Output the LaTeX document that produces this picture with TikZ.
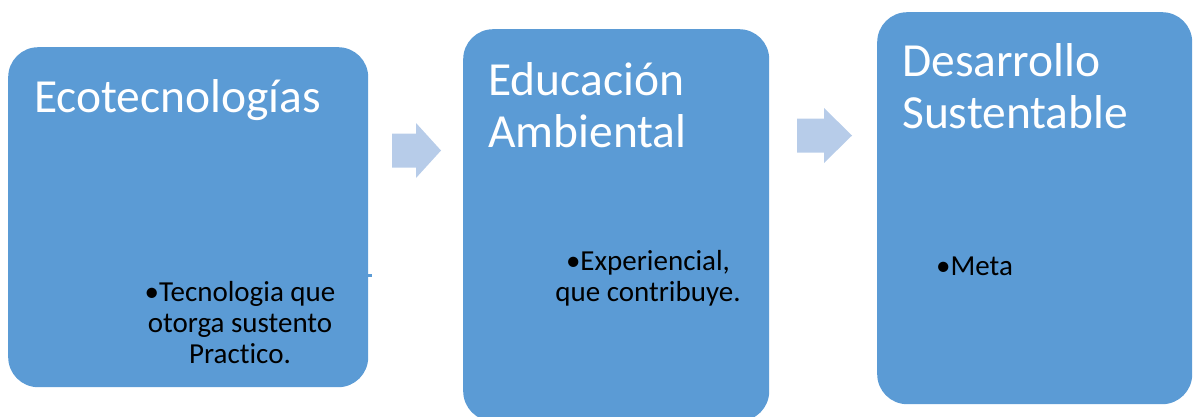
\documentclass[tikz,border=0pt]{standalone}
\usepackage{fontspec}
\setmainfont{Carlito}[Ligatures={NoCommon,NoContextual}]
\usepackage{tikz}
\usepackage{xcolor}
\usetikzlibrary{positioning}

\definecolor{boxblue}{HTML}{5B9BD5}
\definecolor{arrowblue}{HTML}{B7CCE9}

\tikzset{
  stagebox/.style={draw=none, fill=boxblue, rounded corners=30pt, inner sep=0pt, anchor=north west},
  titletext/.style={text=white, font=\fontsize{47.5}{52}\selectfont, inner sep=0pt, align=left, anchor=base west},
  itemtext/.style={text=black, font=\fontsize{29}{31}\selectfont, inner sep=0pt, align=center, anchor=base}
}

\begin{document}
\begin{tikzpicture}[x=1pt,y=-1pt]
        \useasboundingbox (0,0) rectangle (1193,416);
        % the three stages
        \node[stagebox, minimum width=360pt, minimum height=340pt] (eco) at (8,47) {};
        \node[stagebox, minimum width=306pt, minimum height=392pt] (edu) at (463,29) {};
        \node[stagebox, minimum width=315pt, minimum height=392pt] (des) at (877,12) {};
        \draw[boxblue, line width=3pt] (367,275) -- (372,275);
        % block arrows between the stages
        \foreach \tail/\neck/\tip/\mid in {392/416/441/150.5, 797/824/852/135.5}
        \fill[arrowblue] (\tail,\mid-17) -- (\neck,\mid-17) -- (\neck,\mid-27.5) -- (\tip,\mid)
        -- (\neck,\mid+27.5) -- (\neck,\mid+17) -- (\tail,\mid+17) -- cycle;
        % titles (base = last line)
        \node[titletext] (ecotitle) at (34,112) {Ecotecnologías};
        \node[titletext] (edutitle) at (488,147) {Educación\\Ambiental};
        \node[titletext] (destitle) at (902,128) {Desarrollo\\Sustentable};
        % bullet texts
        \node[itemtext] (ecoitem) at (240,363) {•Tecnologia que\\otorga sustento\\Practico.};
        \node[itemtext] (eduitem) at (648,301) {•Experiencial,\\que contribuye.};
        \node[itemtext, anchor=base west] (desitem) at (936,275) {•Meta};
\end{tikzpicture}
\end{document}
